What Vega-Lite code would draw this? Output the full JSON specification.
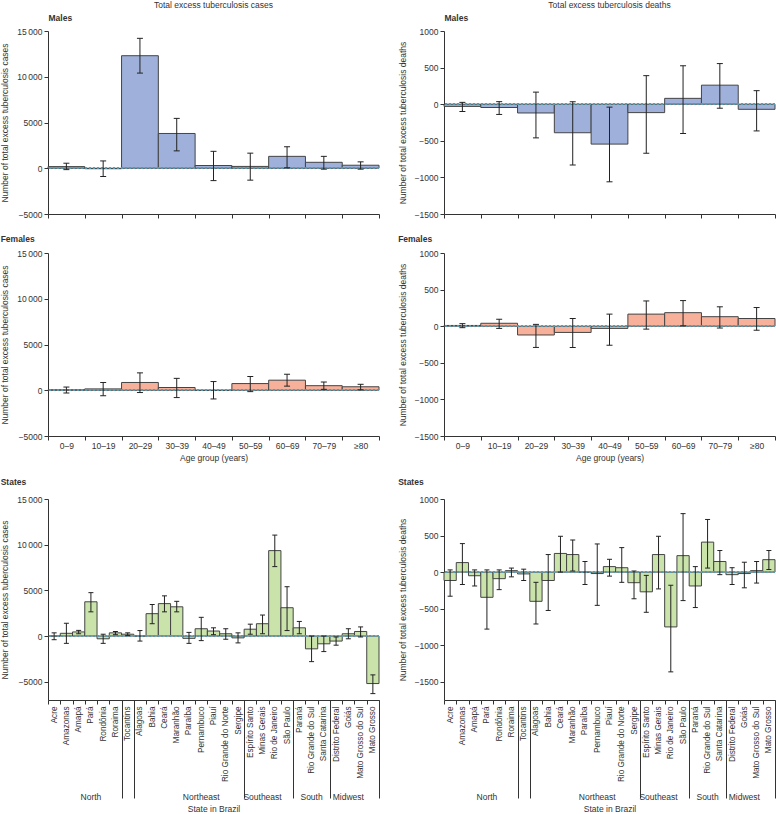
{
  "$schema": "https://vega.github.io/schema/vega-lite/v6.json",
  "padding": 0,
  "spacing": 15,
  "datasets": {
    "mc": [
      {"age": "0–9", "value": 180, "low": -150, "high": 550},
      {"age": "10–19", "value": -50, "low": -900, "high": 800},
      {"age": "20–29", "value": 12300, "low": 10400, "high": 14200},
      {"age": "30–39", "value": 3800, "low": 1900, "high": 5450},
      {"age": "40–49", "value": 300, "low": -1350, "high": 1850},
      {"age": "50–59", "value": 200, "low": -1300, "high": 1650},
      {"age": "60–69", "value": 1300, "low": 50, "high": 2350},
      {"age": "70–79", "value": 650, "low": -100, "high": 1300},
      {"age": "≥80", "value": 330, "low": -100, "high": 700}
    ],
    "md": [
      {"age": "0–9", "value": -30, "low": -100, "high": 25},
      {"age": "10–19", "value": -45, "low": -140, "high": 35},
      {"age": "20–29", "value": -120, "low": -460, "high": 165},
      {"age": "30–39", "value": -390, "low": -830, "high": 35},
      {"age": "40–49", "value": -545, "low": -1060, "high": -40},
      {"age": "50–59", "value": -115, "low": -670, "high": 390},
      {"age": "60–69", "value": 80, "low": -400, "high": 525},
      {"age": "70–79", "value": 260, "low": -55, "high": 555},
      {"age": "≥80", "value": -70, "low": -365, "high": 185}
    ],
    "fc": [
      {"age": "0–9", "value": 50, "low": -300, "high": 350},
      {"age": "10–19", "value": 150, "low": -600, "high": 850},
      {"age": "20–29", "value": 850, "low": -250, "high": 1900},
      {"age": "30–39", "value": 300, "low": -800, "high": 1300},
      {"age": "40–49", "value": 0, "low": -950, "high": 950},
      {"age": "50–59", "value": 730, "low": -150, "high": 1500},
      {"age": "60–69", "value": 1100, "low": 450, "high": 1750},
      {"age": "70–79", "value": 500, "low": 100, "high": 900},
      {"age": "≥80", "value": 380, "low": 50, "high": 650}
    ],
    "fd": [
      {"age": "0–9", "value": 10, "low": -20, "high": 35},
      {"age": "10–19", "value": 40, "low": -30, "high": 95},
      {"age": "20–29", "value": -120, "low": -290, "high": 25},
      {"age": "30–39", "value": -85, "low": -290, "high": 105},
      {"age": "40–49", "value": -30, "low": -260, "high": 165},
      {"age": "50–59", "value": 165, "low": -40, "high": 345},
      {"age": "60–69", "value": 185, "low": 5, "high": 350},
      {"age": "70–79", "value": 130, "low": -25, "high": 265},
      {"age": "≥80", "value": 105, "low": -55, "high": 255}
    ],
    "sc": [
      {"state": "Acre", "region": "North", "value": 0, "low": -400, "high": 350},
      {"state": "Amazonas", "region": "North", "value": 300, "low": -800, "high": 1400},
      {"state": "Amapá", "region": "North", "value": 450, "low": 250, "high": 620},
      {"state": "Pará", "region": "North", "value": 3750, "low": 2650, "high": 4750},
      {"state": "Rondônia", "region": "North", "value": -300, "low": -800, "high": 200},
      {"state": "Roraima", "region": "North", "value": 350, "low": 150, "high": 500},
      {"state": "Tocantins", "region": "North", "value": 200, "low": 50, "high": 350},
      {"state": "Alagoas", "region": "Northeast", "value": 0, "low": -550, "high": 600},
      {"state": "Bahia", "region": "Northeast", "value": 2450, "low": 1350, "high": 3450},
      {"state": "Ceará", "region": "Northeast", "value": 3550, "low": 2650, "high": 4400},
      {"state": "Maranhão", "region": "Northeast", "value": 3200, "low": 2650, "high": 3800},
      {"state": "Paraíba", "region": "Northeast", "value": -250, "low": -800, "high": 400},
      {"state": "Pernambuco", "region": "Northeast", "value": 800, "low": -500, "high": 2050},
      {"state": "Piauí", "region": "Northeast", "value": 550, "low": 150, "high": 900},
      {"state": "Rio Grande do Norte", "region": "Northeast", "value": 250, "low": -350, "high": 800},
      {"state": "Sergipe", "region": "Northeast", "value": -200, "low": -750, "high": 350},
      {"state": "Espírito Santo", "region": "Southeast", "value": 750, "low": 200, "high": 1300},
      {"state": "Minas Gerais", "region": "Southeast", "value": 1350, "low": 250, "high": 2300},
      {"state": "Rio de Janeiro", "region": "Southeast", "value": 9350, "low": 7600, "high": 11050},
      {"state": "São Paulo", "region": "Southeast", "value": 3100, "low": 600, "high": 5400},
      {"state": "Paraná", "region": "South", "value": 900, "low": 250, "high": 1600},
      {"state": "Rio Grande do Sul", "region": "South", "value": -1400, "low": -2800, "high": 0},
      {"state": "Santa Catarina", "region": "South", "value": -850, "low": -1700, "high": 0},
      {"state": "Distrito Federal", "region": "Midwest", "value": -550, "low": -1000, "high": -100},
      {"state": "Goiás", "region": "Midwest", "value": 250, "low": -300, "high": 800},
      {"state": "Mato Grosso do Sul", "region": "Midwest", "value": 500, "low": -100, "high": 1000},
      {"state": "Mato Grosso", "region": "Midwest", "value": -5200, "low": -6300, "high": -4250}
    ],
    "sd": [
      {"state": "Acre", "region": "North", "value": -115, "low": -330, "high": 30},
      {"state": "Amazonas", "region": "North", "value": 130, "low": -170, "high": 390},
      {"state": "Amapá", "region": "North", "value": -50, "low": -190, "high": 30},
      {"state": "Pará", "region": "North", "value": -345, "low": -780, "high": 30},
      {"state": "Rondônia", "region": "North", "value": -90, "low": -240, "high": 30},
      {"state": "Roraima", "region": "North", "value": 20, "low": -65, "high": 55},
      {"state": "Tocantins", "region": "North", "value": -25, "low": -115, "high": 40},
      {"state": "Alagoas", "region": "Northeast", "value": -400, "low": -710, "high": -140},
      {"state": "Bahia", "region": "Northeast", "value": -115, "low": -525, "high": 240},
      {"state": "Ceará", "region": "Northeast", "value": 255, "low": 0, "high": 490},
      {"state": "Maranhão", "region": "Northeast", "value": 240, "low": 15, "high": 440},
      {"state": "Paraíba", "region": "Northeast", "value": 0, "low": -170, "high": 145},
      {"state": "Pernambuco", "region": "Northeast", "value": -20, "low": -455, "high": 385},
      {"state": "Piauí", "region": "Northeast", "value": 75, "low": -55, "high": 175},
      {"state": "Rio Grande do Norte", "region": "Northeast", "value": 60, "low": -140, "high": 335},
      {"state": "Sergipe", "region": "Northeast", "value": -145, "low": -365, "high": 15},
      {"state": "Espírito Santo", "region": "Southeast", "value": -270, "low": -550, "high": -45},
      {"state": "Minas Gerais", "region": "Southeast", "value": 240, "low": -230, "high": 490},
      {"state": "Rio de Janeiro", "region": "Southeast", "value": -750, "low": -1365, "high": -180},
      {"state": "São Paulo", "region": "Southeast", "value": 225, "low": -390, "high": 800},
      {"state": "Paraná", "region": "South", "value": -190, "low": -485, "high": 75},
      {"state": "Rio Grande do Sul", "region": "South", "value": 410, "low": 55, "high": 720},
      {"state": "Santa Catarina", "region": "South", "value": 145, "low": -35, "high": 295},
      {"state": "Distrito Federal", "region": "Midwest", "value": -35, "low": -170, "high": 60},
      {"state": "Goiás", "region": "Midwest", "value": -20, "low": -215, "high": 135},
      {"state": "Mato Grosso do Sul", "region": "Midwest", "value": 20, "low": -150, "high": 145},
      {"state": "Mato Grosso", "region": "Midwest", "value": 170, "low": 35, "high": 295}
    ]
  },
  "vconcat": [
    {
      "bounds": "flush",
      "spacing": 65,
      "hconcat": [
        {
          "width": 331, "height": 183,
          "title": {"text": "Total excess tuberculosis cases", "anchor": "middle", "offset": 4},
          "data": {"name": "mc"},
          "resolve": {"axis": {"x": "independent"}},
          "layer": [
            {"mark": {"type": "bar", "fill": "#9fb1da", "stroke": "#444444", "strokeWidth": 1, "opacity": 1},
             "encoding": {
               "x": {"field": "age", "type": "nominal", "sort": null, "scale": {"paddingInner": 0, "paddingOuter": 0}, "axis": {"orient": "bottom", "title": null, "labels": false, "tickBand": "extent"}},
               "y": {"field": "value", "type": "quantitative", "scale": {"domain": [-5000, 15000], "nice": false, "zero": false}, "axis": {"title": "Number of total excess tuberculosis cases", "values": [-5000, 0, 5000, 10000, 15000], "tickCount": 10, "labelExpr": "datum.value >= 10000 ? format(datum.value / 1000, 'd') + '\u2009000' : format(datum.value, 'd')", "titlePadding": 7}},
               "y2": {"datum": 0}
             }},
            {"mark": {"type": "rule", "color": "#5b9bb0", "strokeDash": [2, 2], "strokeWidth": 1}, "encoding": {"y": {"datum": 0, "type": "quantitative"}}},
            {"mark": {"type": "rule", "color": "#222222", "strokeWidth": 1},
             "encoding": {
               "x": {"field": "age", "type": "nominal", "sort": null, "axis": {"orient": "top", "title": "Males", "labels": false, "ticks": false, "domain": false, "titleAnchor": "start", "titleAlign": "left", "titleFontWeight": "bold", "titlePadding": 9}},
               "y": {"field": "low", "type": "quantitative"},
               "y2": {"field": "high"}
             }},
            {"mark": {"type": "tick", "color": "#222222", "size": 6, "thickness": 1, "opacity": 1},
             "encoding": {"x": {"field": "age", "type": "nominal", "sort": null, "axis": null}, "y": {"field": "low", "type": "quantitative"}}},
            {"mark": {"type": "tick", "color": "#222222", "size": 6, "thickness": 1, "opacity": 1},
             "encoding": {"x": {"field": "age", "type": "nominal", "sort": null, "axis": null}, "y": {"field": "high", "type": "quantitative"}}}
          ]
        },
        {
          "width": 331, "height": 183,
          "title": {"text": "Total excess tuberculosis deaths", "anchor": "middle", "offset": 4},
          "data": {"name": "md"},
          "resolve": {"axis": {"x": "independent"}},
          "layer": [
            {"mark": {"type": "bar", "fill": "#9fb1da", "stroke": "#444444", "strokeWidth": 1, "opacity": 1},
             "encoding": {
               "x": {"field": "age", "type": "nominal", "sort": null, "scale": {"paddingInner": 0, "paddingOuter": 0}, "axis": {"orient": "bottom", "title": null, "labels": false, "tickBand": "extent"}},
               "y": {"field": "value", "type": "quantitative", "scale": {"domain": [-1500, 1000], "nice": false, "zero": false}, "axis": {"title": "Number of total excess tuberculosis deaths", "values": [-1500, -1000, -500, 0, 500, 1000], "tickCount": 10, "format": "d", "titlePadding": 7}},
               "y2": {"datum": 0}
             }},
            {"mark": {"type": "rule", "color": "#5b9bb0", "strokeDash": [2, 2], "strokeWidth": 1}, "encoding": {"y": {"datum": 0, "type": "quantitative"}}},
            {"mark": {"type": "rule", "color": "#222222", "strokeWidth": 1},
             "encoding": {
               "x": {"field": "age", "type": "nominal", "sort": null, "axis": {"orient": "top", "title": "Males", "labels": false, "ticks": false, "domain": false, "titleAnchor": "start", "titleAlign": "left", "titleFontWeight": "bold", "titlePadding": 9}},
               "y": {"field": "low", "type": "quantitative"},
               "y2": {"field": "high"}
             }},
            {"mark": {"type": "tick", "color": "#222222", "size": 6, "thickness": 1, "opacity": 1},
             "encoding": {"x": {"field": "age", "type": "nominal", "sort": null, "axis": null}, "y": {"field": "low", "type": "quantitative"}}},
            {"mark": {"type": "tick", "color": "#222222", "size": 6, "thickness": 1, "opacity": 1},
             "encoding": {"x": {"field": "age", "type": "nominal", "sort": null, "axis": null}, "y": {"field": "high", "type": "quantitative"}}}
          ]
        }
      ]
    },
    {
      "bounds": "flush",
      "spacing": 65,
      "hconcat": [
        {
          "width": 331, "height": 183,
          "title": {"text": "Females", "anchor": "start", "fontWeight": "bold", "offset": 6},
          "data": {"name": "fc"},
          "layer": [
            {"mark": {"type": "bar", "fill": "#f7b19b", "stroke": "#444444", "strokeWidth": 1, "opacity": 1},
             "encoding": {
               "x": {"field": "age", "type": "nominal", "sort": null, "scale": {"paddingInner": 0, "paddingOuter": 0}, "axis": {"title": "Age group (years)", "labelAngle": 0, "tickBand": "extent", "labelPadding": 1, "titlePadding": 4}},
               "y": {"field": "value", "type": "quantitative", "scale": {"domain": [-5000, 15000], "nice": false, "zero": false}, "axis": {"title": "Number of total excess tuberculosis cases", "values": [-5000, 0, 5000, 10000, 15000], "tickCount": 10, "labelExpr": "datum.value >= 10000 ? format(datum.value / 1000, 'd') + '\u2009000' : format(datum.value, 'd')", "titlePadding": 7}},
               "y2": {"datum": 0}
             }},
            {"mark": {"type": "rule", "color": "#5b9bb0", "strokeDash": [2, 2], "strokeWidth": 1}, "encoding": {"y": {"datum": 0, "type": "quantitative"}}},
            {"mark": {"type": "rule", "color": "#222222", "strokeWidth": 1},
             "encoding": {
               "x": {"field": "age", "type": "nominal", "sort": null},
               "y": {"field": "low", "type": "quantitative"},
               "y2": {"field": "high"}
             }},
            {"mark": {"type": "tick", "color": "#222222", "size": 6, "thickness": 1, "opacity": 1},
             "encoding": {"x": {"field": "age", "type": "nominal", "sort": null}, "y": {"field": "low", "type": "quantitative"}}},
            {"mark": {"type": "tick", "color": "#222222", "size": 6, "thickness": 1, "opacity": 1},
             "encoding": {"x": {"field": "age", "type": "nominal", "sort": null}, "y": {"field": "high", "type": "quantitative"}}}
          ]
        },
        {
          "width": 331, "height": 183,
          "title": {"text": "Females", "anchor": "start", "fontWeight": "bold", "offset": 6},
          "data": {"name": "fd"},
          "layer": [
            {"mark": {"type": "bar", "fill": "#f7b19b", "stroke": "#444444", "strokeWidth": 1, "opacity": 1},
             "encoding": {
               "x": {"field": "age", "type": "nominal", "sort": null, "scale": {"paddingInner": 0, "paddingOuter": 0}, "axis": {"title": "Age group (years)", "labelAngle": 0, "tickBand": "extent", "labelPadding": 1, "titlePadding": 4}},
               "y": {"field": "value", "type": "quantitative", "scale": {"domain": [-1500, 1000], "nice": false, "zero": false}, "axis": {"title": "Number of total excess tuberculosis deaths", "values": [-1500, -1000, -500, 0, 500, 1000], "tickCount": 10, "format": "d", "titlePadding": 7}},
               "y2": {"datum": 0}
             }},
            {"mark": {"type": "rule", "color": "#5b9bb0", "strokeDash": [2, 2], "strokeWidth": 1}, "encoding": {"y": {"datum": 0, "type": "quantitative"}}},
            {"mark": {"type": "rule", "color": "#222222", "strokeWidth": 1},
             "encoding": {
               "x": {"field": "age", "type": "nominal", "sort": null},
               "y": {"field": "low", "type": "quantitative"},
               "y2": {"field": "high"}
             }},
            {"mark": {"type": "tick", "color": "#222222", "size": 6, "thickness": 1, "opacity": 1},
             "encoding": {"x": {"field": "age", "type": "nominal", "sort": null}, "y": {"field": "low", "type": "quantitative"}}},
            {"mark": {"type": "tick", "color": "#222222", "size": 6, "thickness": 1, "opacity": 1},
             "encoding": {"x": {"field": "age", "type": "nominal", "sort": null}, "y": {"field": "high", "type": "quantitative"}}}
          ]
        }
      ]
    },
    {
      "bounds": "flush",
      "spacing": 65,
      "hconcat": [
        {
          "width": 331, "height": 201,
          "title": {"text": "States", "anchor": "start", "fontWeight": "bold", "offset": 9},
          "data": {"name": "sc"},
          "resolve": {"axis": {"x": "independent"}},
          "layer": [
            {"mark": {"type": "bar", "fill": "#c9e3ab", "stroke": "#444444", "strokeWidth": 1, "opacity": 1},
             "encoding": {
               "x": {"field": "state", "type": "nominal", "sort": null, "scale": {"paddingInner": 0, "paddingOuter": 0}, "axis": {"orient": "bottom", "title": null, "labelAngle": -90, "tickBand": "extent", "labelPadding": 2, "labelFontSize": 8.2}},
               "y": {"field": "value", "type": "quantitative", "scale": {"domain": [-7000, 15000], "nice": false, "zero": false}, "axis": {"title": "Number of total excess tuberculosis cases", "values": [-5000, 0, 5000, 10000, 15000], "tickCount": 10, "labelExpr": "datum.value >= 10000 ? format(datum.value / 1000, 'd') + '\u2009000' : format(datum.value, 'd')", "titlePadding": 7}},
               "y2": {"datum": 0}
             }},
            {"mark": {"type": "rule", "color": "#5b9bb0", "strokeDash": [2, 2], "strokeWidth": 1}, "encoding": {"y": {"datum": 0, "type": "quantitative"}}},
            {"mark": {"type": "rule", "color": "#222222", "strokeWidth": 1},
             "encoding": {
               "x": {"field": "state", "type": "nominal", "sort": null, "axis": {"orient": "bottom", "title": null, "labels": false, "domain": false, "values": ["Tocantins", "Sergipe", "São Paulo", "Santa Catarina", "Mato Grosso"], "tickBand": "extent", "tickSize": 98}},
               "y": {"field": "low", "type": "quantitative"},
               "y2": {"field": "high"}
             }},
            {"mark": {"type": "tick", "color": "#222222", "size": 5, "thickness": 1, "opacity": 1},
             "encoding": {"x": {"field": "state", "type": "nominal", "sort": null, "axis": {"orient": "bottom", "values": ["Pará", "Rio Grande do Sul"], "ticks": false, "tickSize": 0, "domain": false, "labelAngle": 0, "labelPadding": 92, "labelExpr": "datum.value == 'Pará' ? 'North' : 'South'", "title": "State in Brazil", "titlePadding": 4}}, "y": {"field": "low", "type": "quantitative"}}},
            {"mark": {"type": "tick", "color": "#222222", "size": 5, "thickness": 1, "opacity": 1},
             "encoding": {"x": {"field": "state", "type": "nominal", "sort": null, "axis": {"orient": "bottom", "values": ["Pernambuco", "Minas Gerais", "Goiás"], "bandPosition": 1, "ticks": false, "tickSize": 0, "domain": false, "labelAngle": 0, "labelPadding": 92, "labelExpr": "datum.value == 'Pernambuco' ? 'Northeast' : datum.value == 'Minas Gerais' ? 'Southeast' : 'Midwest'", "title": null}}, "y": {"field": "high", "type": "quantitative"}}}
          ]
        },
        {
          "width": 331, "height": 201,
          "title": {"text": "States", "anchor": "start", "fontWeight": "bold", "offset": 9},
          "data": {"name": "sd"},
          "resolve": {"axis": {"x": "independent"}},
          "layer": [
            {"mark": {"type": "bar", "fill": "#c9e3ab", "stroke": "#444444", "strokeWidth": 1, "opacity": 1},
             "encoding": {
               "x": {"field": "state", "type": "nominal", "sort": null, "scale": {"paddingInner": 0, "paddingOuter": 0}, "axis": {"orient": "bottom", "title": null, "labelAngle": -90, "tickBand": "extent", "labelPadding": 2, "labelFontSize": 8.2}},
               "y": {"field": "value", "type": "quantitative", "scale": {"domain": [-1750, 1000], "nice": false, "zero": false}, "axis": {"title": "Number of total excess tuberculosis deaths", "values": [-1500, -1000, -500, 0, 500, 1000], "tickCount": 10, "format": "d", "titlePadding": 7}},
               "y2": {"datum": 0}
             }},
            {"mark": {"type": "rule", "color": "#5b9bb0", "strokeDash": [2, 2], "strokeWidth": 1}, "encoding": {"y": {"datum": 0, "type": "quantitative"}}},
            {"mark": {"type": "rule", "color": "#222222", "strokeWidth": 1},
             "encoding": {
               "x": {"field": "state", "type": "nominal", "sort": null, "axis": {"orient": "bottom", "title": null, "labels": false, "domain": false, "values": ["Tocantins", "Sergipe", "São Paulo", "Santa Catarina", "Mato Grosso"], "tickBand": "extent", "tickSize": 98}},
               "y": {"field": "low", "type": "quantitative"},
               "y2": {"field": "high"}
             }},
            {"mark": {"type": "tick", "color": "#222222", "size": 5, "thickness": 1, "opacity": 1},
             "encoding": {"x": {"field": "state", "type": "nominal", "sort": null, "axis": {"orient": "bottom", "values": ["Pará", "Rio Grande do Sul"], "ticks": false, "tickSize": 0, "domain": false, "labelAngle": 0, "labelPadding": 92, "labelExpr": "datum.value == 'Pará' ? 'North' : 'South'", "title": "State in Brazil", "titlePadding": 4}}, "y": {"field": "low", "type": "quantitative"}}},
            {"mark": {"type": "tick", "color": "#222222", "size": 5, "thickness": 1, "opacity": 1},
             "encoding": {"x": {"field": "state", "type": "nominal", "sort": null, "axis": {"orient": "bottom", "values": ["Pernambuco", "Minas Gerais", "Goiás"], "bandPosition": 1, "ticks": false, "tickSize": 0, "domain": false, "labelAngle": 0, "labelPadding": 92, "labelExpr": "datum.value == 'Pernambuco' ? 'Northeast' : datum.value == 'Minas Gerais' ? 'Southeast' : 'Midwest'", "title": null}}, "y": {"field": "high", "type": "quantitative"}}}
          ]
        }
      ]
    }
  ],
  "config": {
    "font": "Liberation Sans",
    "view": {"stroke": null},
    "axis": {"labelFontSize": 8.5, "titleFontSize": 8.5, "titleFontWeight": "normal", "labelColor": "#333333", "titleColor": "#333333", "domainColor": "#333333", "tickColor": "#333333", "tickSize": 4, "labelPadding": 2, "grid": false, "labelOverlap": false},
    "title": {"fontSize": 8.5, "fontWeight": "normal", "color": "#333333"}
  }
}
